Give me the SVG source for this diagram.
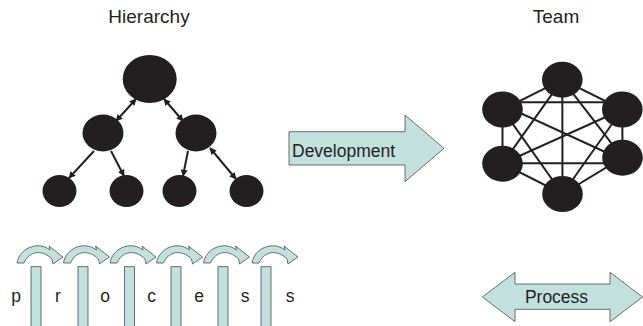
<svg xmlns="http://www.w3.org/2000/svg" width="643" height="326" viewBox="0 0 643 326">
  <style>
    .title { font-family: "Liberation Sans", Arial, sans-serif; font-size: 19px; fill: #231f20; text-anchor: middle; }
    .label { font-family: "Liberation Sans", Arial, sans-serif; font-size: 17.5px; fill: #231f20; }
    .node { fill: #231f20; }
    .link { stroke: #231f20; stroke-width: 2; fill: none; }
    .shape { fill: #c1e0de; stroke: #4d4d4d; stroke-width: 0.8; }
  </style>
  <defs>
    <marker id="head" viewBox="0 0 10 10" refX="9" refY="5" markerWidth="7" markerHeight="7" markerUnits="userSpaceOnUse" orient="auto-start-reverse">
      <path d="M0,0 L10,5 L0,10 Z" fill="#231f20"/>
    </marker>
    <!-- curved step arrow, left foot at local x=0 -->
    <path id="curl" class="shape" d="M0 263 C2 249 20 240 33 250 L32 246 L46 257 L36 264 L35 259 C25 249 12 251 7 263 Z"/>
  </defs>

  <rect width="643" height="326" fill="#ffffff"/>

  <text class="title" x="149" y="23">Hierarchy</text>
  <text class="title" x="556" y="23">Team</text>

  <!-- hierarchy connectors -->
  <g id="hierarchy-links">
    <line class="link" x1="136" y1="99" x2="116" y2="121" marker-start="url(#head)" marker-end="url(#head)"/>
    <line class="link" x1="164" y1="99" x2="183" y2="121" marker-start="url(#head)" marker-end="url(#head)"/>
    <line class="link" x1="94" y1="151" x2="69" y2="178" marker-end="url(#head)"/>
    <line class="link" x1="111" y1="151" x2="124" y2="176" marker-end="url(#head)"/>
    <line class="link" x1="188" y1="151" x2="183" y2="176" marker-end="url(#head)"/>
    <line class="link" x1="210" y1="148" x2="236" y2="179" marker-start="url(#head)" marker-end="url(#head)"/>
  </g>

  <!-- hierarchy nodes -->
  <g id="h-root"><ellipse class="node" cx="149.7" cy="79" rx="27" ry="24"/></g>
  <g id="h-mid-left"><ellipse class="node" cx="103" cy="133" rx="20.5" ry="18.5"/></g>
  <g id="h-mid-right"><ellipse class="node" cx="196" cy="133" rx="20.5" ry="18.5"/></g>
  <g id="h-leaf-1"><ellipse class="node" cx="59.5" cy="191" rx="17" ry="16"/></g>
  <g id="h-leaf-2"><ellipse class="node" cx="126.5" cy="191" rx="17" ry="16"/></g>
  <g id="h-leaf-3"><ellipse class="node" cx="179.5" cy="191" rx="17" ry="16"/></g>
  <g id="h-leaf-4"><ellipse class="node" cx="246.5" cy="191" rx="17" ry="16"/></g>

  <!-- development arrow -->
  <g id="development">
    <path class="shape" d="M289 131.7 L405 131.7 L405 115 L444 148.3 L405 181.7 L405 165 L289 165 Z"/>
    <text class="label" x="292" y="156.5">Development</text>
  </g>

  <!-- team connectors (complete graph) -->
  <g id="team-links" class="link">
    <line x1="562.3" y1="79.7" x2="502.5" y2="109.5"/>
    <line x1="562.3" y1="79.7" x2="622.3" y2="109.5"/>
    <line x1="562.3" y1="79.7" x2="502.5" y2="163.7"/>
    <line x1="562.3" y1="79.7" x2="622.5" y2="157.7"/>
    <line x1="562.3" y1="79.7" x2="562.5" y2="194"/>
    <line x1="502.5" y1="102.3" x2="622.3" y2="102.3"/>
    <line x1="502.5" y1="109.5" x2="502.5" y2="163.7"/>
    <line x1="505" y1="106" x2="622.5" y2="160"/>
    <line x1="502.5" y1="109.5" x2="562.5" y2="194"/>
    <line x1="622.3" y1="109.5" x2="502.5" y2="163.7"/>
    <line x1="622.3" y1="109.5" x2="622.5" y2="157.7"/>
    <line x1="622.3" y1="109.5" x2="562.5" y2="194"/>
    <line x1="502.5" y1="163.3" x2="622.5" y2="163.3"/>
    <line x1="502.5" y1="163.7" x2="562.5" y2="194"/>
    <line x1="622.5" y1="157.7" x2="562.5" y2="194"/>
  </g>

  <!-- team nodes -->
  <g id="t-top"><ellipse class="node" cx="562.3" cy="79.7" rx="20.3" ry="18"/></g>
  <g id="t-upper-left"><ellipse class="node" cx="502.5" cy="109.5" rx="20.3" ry="18"/></g>
  <g id="t-upper-right"><ellipse class="node" cx="622.3" cy="109.5" rx="20.3" ry="18"/></g>
  <g id="t-lower-left"><ellipse class="node" cx="502.5" cy="163.7" rx="20.3" ry="18"/></g>
  <g id="t-lower-right"><ellipse class="node" cx="622.5" cy="157.7" rx="20.3" ry="18"/></g>
  <g id="t-bottom"><ellipse class="node" cx="562.5" cy="194" rx="20.3" ry="18"/></g>

  <!-- process strip: steps, bars and letters -->
  <g id="process-strip">
    <use href="#curl" x="17"/>
    <use href="#curl" x="63.5"/>
    <use href="#curl" x="110"/>
    <use href="#curl" x="156.5"/>
    <use href="#curl" x="203.5"/>
    <use href="#curl" x="252"/>
    <rect class="shape" x="31" y="266.7" width="10" height="62"/>
    <rect class="shape" x="78" y="266.7" width="10" height="62"/>
    <rect class="shape" x="124.5" y="266.7" width="10" height="62"/>
    <rect class="shape" x="171" y="266.7" width="10" height="62"/>
    <rect class="shape" x="218" y="266.7" width="10" height="62"/>
    <rect class="shape" x="261" y="266.7" width="10" height="62"/>
    <g class="label" text-anchor="middle">
      <text x="16" y="302">p</text>
      <text x="58" y="302">r</text>
      <text x="105" y="302">o</text>
      <text x="151.7" y="302">c</text>
      <text x="199" y="302">e</text>
      <text x="245" y="302">s</text>
      <text x="290" y="302">s</text>
    </g>
  </g>

  <!-- process double arrow -->
  <g id="process">
    <path class="shape" d="M482.3 297 L515 272.3 L515 284 L610 284 L610 272.3 L642.5 297 L610 321.7 L610 309.3 L515 309.3 L515 321.7 Z"/>
    <text class="label" x="556.5" y="303.3" text-anchor="middle">Process</text>
  </g>
</svg>
